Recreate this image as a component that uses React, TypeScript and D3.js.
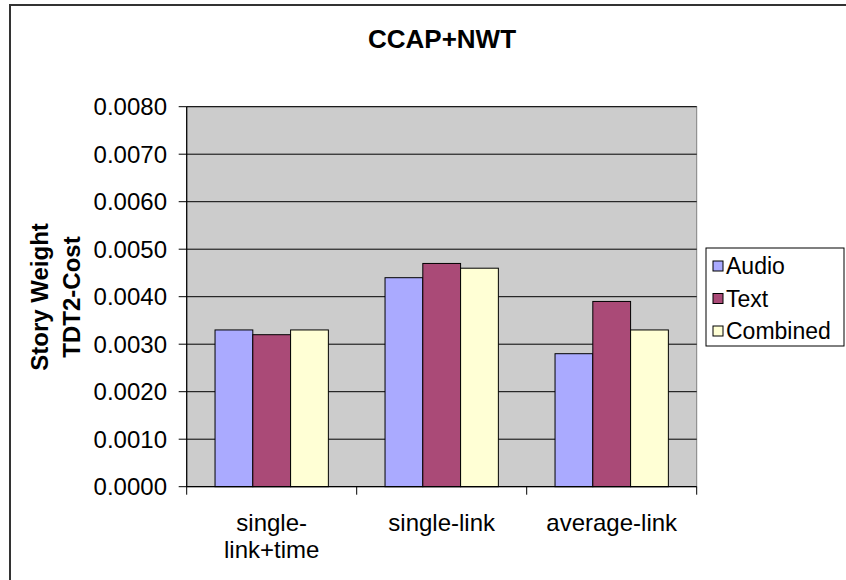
import React, { useEffect, useRef } from "react";
import * as d3 from "d3";

const categories = ["single-link+time", "single-link", "average-link"];
const categoryLines = [["single-", "link+time"], ["single-link"], ["average-link"]];
const seriesNames = ["Audio", "Text", "Combined"];
const audioValues = [0.0033, 0.0044, 0.0028];
const textValues = [0.0032, 0.0047, 0.0039];
const combinedValues = [0.0033, 0.0046, 0.0033];
const yTicks = [0, 0.001, 0.002, 0.003, 0.004, 0.005, 0.006, 0.007, 0.008];
const colors = ["#AAAAFF", "#AA4A77", "#FFFFD5"];

const W = 846;
const H = 580;
const FONT = "'Liberation Sans', Arial, Helvetica, sans-serif";

export default function App() {
  const ref = useRef<SVGSVGElement>(null);

  useEffect(() => {
    const svg = d3.select(ref.current);
    svg.selectAll("*").remove();

    const left = 186.7, right = 696.7, top = 106.7, bottom = 486.7;
    const series = [audioValues, textValues, combinedValues];

    const x0 = d3.scaleBand<string>().domain(categories).range([left, right]).paddingInner(0).paddingOuter(0);
    const bw = x0.bandwidth();
    const barW = bw / 4.5;
    const y = d3.scaleLinear().domain([0, 0.008]).range([bottom, top]);

    // outer frame
    svg.append("rect").attr("x", 10).attr("y", 5).attr("width", 1000).attr("height", 1000)
      .attr("fill", "white").attr("stroke", "#333").attr("stroke-width", 2);

    // plot area
    svg.append("rect").attr("x", left).attr("y", top).attr("width", right - left).attr("height", bottom - top)
      .attr("fill", "#CCCCCC").attr("stroke", "#808080").attr("stroke-width", 1);

    // gridlines
    svg.append("g").selectAll("line").data(yTicks.filter(t => t > 0)).join("line")
      .attr("x1", left).attr("x2", right)
      .attr("y1", d => y(d)).attr("y2", d => y(d))
      .attr("stroke", "#000").attr("stroke-width", 1);

    // bars
    const g = svg.append("g");
    categories.forEach((c, ci) => {
      const start = (x0(c) as number) + barW * 0.75;
      series.forEach((vals, si) => {
        g.append("rect")
          .attr("x", start + si * barW)
          .attr("y", y(vals[ci]))
          .attr("width", barW)
          .attr("height", y(0) - y(vals[ci]))
          .attr("fill", colors[si])
          .attr("stroke", "#000")
          .attr("stroke-width", 1);
      });
    });

    // y axis
    const yAxis = svg.append("g");
    yAxis.append("line").attr("x1", left).attr("x2", left).attr("y1", top).attr("y2", bottom)
      .attr("stroke", "#000").attr("stroke-width", 1.2);
    yAxis.selectAll("line.tick").data(yTicks).join("line").attr("class", "tick")
      .attr("x1", left - 8).attr("x2", left).attr("y1", d => y(d)).attr("y2", d => y(d))
      .attr("stroke", "#000");
    yAxis.selectAll("text").data(yTicks).join("text")
      .attr("x", 167).attr("y", d => y(d)).attr("dy", "0.36em")
      .attr("text-anchor", "end").attr("font-family", FONT).attr("font-size", 24)
      .text(d => d3.format(".4f")(d));

    // x axis
    const xAxis = svg.append("g");
    xAxis.append("line").attr("x1", left).attr("x2", right).attr("y1", bottom).attr("y2", bottom)
      .attr("stroke", "#000").attr("stroke-width", 1.2);
    const bounds = [left, ...categories.map(c => (x0(c) as number) + bw)];
    xAxis.selectAll("line.tick").data(bounds).join("line").attr("class", "tick")
      .attr("x1", d => d).attr("x2", d => d).attr("y1", bottom).attr("y2", bottom + 8)
      .attr("stroke", "#000");
    categories.forEach((c, ci) => {
      const cx = (x0(c) as number) + bw / 2;
      const t = xAxis.append("text").attr("text-anchor", "middle")
        .attr("font-family", FONT).attr("font-size", 24);
      categoryLines[ci].forEach((ln, li) => {
        t.append("tspan").attr("x", cx).attr("y", 531 + li * 27).text(ln);
      });
    });

    // title
    svg.append("text").attr("x", 442).attr("y", 48).attr("text-anchor", "middle")
      .attr("font-family", FONT).attr("font-size", 26).attr("font-weight", "bold")
      .text("CCAP+NWT");

    // y title
    const yt = svg.append("text").attr("transform", "translate(0,297) rotate(-90)")
      .attr("text-anchor", "middle").attr("font-family", FONT).attr("font-size", 24)
      .attr("font-weight", "bold");
    yt.append("tspan").attr("x", 0).attr("y", 48).text("Story Weight");
    yt.append("tspan").attr("x", 0).attr("y", 80).text("TDT2-Cost");

    // legend
    const lg = svg.append("g");
    lg.append("rect").attr("x", 706).attr("y", 248).attr("width", 138).attr("height", 98)
      .attr("fill", "white").attr("stroke", "#000").attr("stroke-width", 1);
    seriesNames.forEach((s, i) => {
      const cy = 266 + i * 32.5;
      lg.append("rect").attr("x", 713).attr("y", cy - 5).attr("width", 10).attr("height", 10)
        .attr("fill", colors[i]).attr("stroke", "#000").attr("stroke-width", 1);
      lg.append("text").attr("x", 726).attr("y", cy).attr("dy", "0.36em")
        .attr("font-family", FONT).attr("font-size", 23).text(s);
    });
  }, []);

  return (
    <svg ref={ref} width={W} height={H} style={{ position: "absolute", left: 0, top: 0, background: "white" }} />
  );
}
